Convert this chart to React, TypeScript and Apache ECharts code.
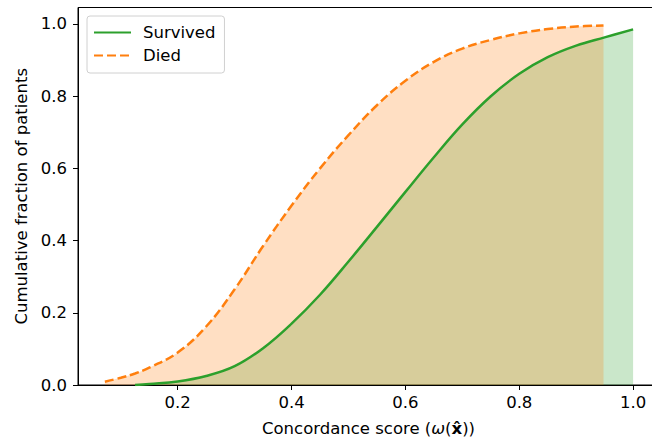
import React, { useEffect, useRef } from "react";
import * as echarts from "echarts";

const survivedX = [0.125, 0.15, 0.2, 0.25, 0.3, 0.35, 0.4, 0.45, 0.5, 0.55, 0.6, 0.65, 0.7, 0.75, 0.8, 0.85, 0.9, 0.95, 1.0];
const survivedY = [0.0, 0.003, 0.01, 0.025, 0.052, 0.102, 0.17, 0.25, 0.342, 0.438, 0.535, 0.631, 0.722, 0.8, 0.862, 0.908, 0.94, 0.963, 0.985];

const diedX = [0.072, 0.1, 0.125, 0.15, 0.2, 0.25, 0.3, 0.35, 0.4, 0.45, 0.5, 0.55, 0.6, 0.65, 0.7, 0.75, 0.8, 0.85, 0.9, 0.948];
const diedY = [0.009, 0.02, 0.032, 0.048, 0.09, 0.162, 0.265, 0.385, 0.497, 0.6, 0.692, 0.775, 0.843, 0.895, 0.932, 0.956, 0.974, 0.986, 0.993, 0.996];

const xTicks = [0.2, 0.4, 0.6, 0.8, 1.0];
const yTicks = [0.0, 0.2, 0.4, 0.6, 0.8, 1.0];

const seriesNames = ["Survived", "Died"];
const xLabel = "Concordance score ({i|ω}({b|x̂}))";
const yLabel = "Cumulative fraction of patients";

const FONT = "DejaVu Sans";
const FS = 16.5;
const GREEN = "#2ca02c";
const ORANGE = "#ff7f0e";
const SMOOTH = 0.4;

export default function App() {
  const ref = useRef<HTMLDivElement>(null);
  useEffect(() => {
    if (!ref.current) return;
    const chart = echarts.init(ref.current, null, { renderer: "svg" });
    const sPts = survivedX.map((x, i) => [x, survivedY[i]]);
    const dPts = diedX.map((x, i) => [x, diedY[i]]);
    const axisCommon = {
      axisLine: { show: true, onZero: false, lineStyle: { color: "#000", width: 1 } },
      axisTick: { show: true, inside: false, length: 5, lineStyle: { color: "#000", width: 1 } },
      splitLine: { show: false },
    };
    chart.setOption({
      animation: false,
      backgroundColor: "#fff",
      textStyle: { fontFamily: FONT },
      grid: {
        left: 78,
        right: 3,
        top: 7.5,
        bottom: 57,
        show: true,
        borderColor: "#000",
        borderWidth: 1,
        containLabel: false,
        outerBoundsMode: "none",
      },
      legend: {
        data: seriesNames,
        orient: "vertical",
        left: 87,
        top: 16,
        padding: [8, 9, 9, 6],
        itemWidth: 37,
        itemHeight: 14,
        itemGap: 6,
        backgroundColor: "rgba(255,255,255,0.8)",
        borderColor: "#d0d0d0",
        borderWidth: 1,
        borderRadius: 3,
        itemStyle: { opacity: 0 },
        textStyle: { fontFamily: FONT, fontSize: FS, color: "#000", padding: [0, 0, 0, 7] },
      },
      xAxis: {
        type: "value",
        min: 0.0248,
        max: 1.0455,
        ...axisCommon,
        axisTick: { ...axisCommon.axisTick, customValues: xTicks },
        axisLabel: {
          customValues: xTicks,
          formatter: (v: number) => v.toFixed(1),
          fontFamily: FONT,
          fontSize: FS,
          color: "#000",
          margin: 9,
        },
        name: xLabel,
        nameLocation: "middle",
        nameGap: 35,
        nameTextStyle: {
          fontFamily: FONT,
          fontSize: FS,
          color: "#000",
          rich: {
            i: { fontFamily: FONT, fontSize: FS, fontStyle: "italic", color: "#000" },
            b: { fontFamily: FONT, fontSize: FS, fontWeight: "bold", color: "#000" },
          },
        },
      },
      yAxis: {
        type: "value",
        min: 0,
        max: 1.0457,
        ...axisCommon,
        axisTick: { ...axisCommon.axisTick, customValues: yTicks },
        axisLabel: {
          customValues: yTicks,
          formatter: (v: number) => v.toFixed(1),
          fontFamily: FONT,
          fontSize: FS,
          color: "#000",
          margin: 11,
        },
        name: yLabel,
        nameLocation: "middle",
        nameGap: 48,
        nameTextStyle: { fontFamily: FONT, fontSize: FS, color: "#000" },
      },
      series: [
        {
          name: "Survived fill",
          type: "line",
          data: sPts,
          smooth: SMOOTH,
          symbol: "none",
          silent: true,
          lineStyle: { width: 0, opacity: 0 },
          areaStyle: { color: "rgba(44,160,44,0.25)", opacity: 1 },
        },
        {
          name: "Died fill",
          type: "line",
          data: dPts,
          smooth: SMOOTH,
          symbol: "none",
          silent: true,
          lineStyle: { width: 0, opacity: 0 },
          areaStyle: { color: "rgba(255,127,14,0.25)", opacity: 1 },
        },
        {
          name: "Died",
          type: "line",
          data: dPts,
          smooth: SMOOTH,
          symbol: "none",
          color: ORANGE,
          lineStyle: { color: ORANGE, width: 2.5, type: [9, 4] },
        },
        {
          name: "Survived",
          type: "line",
          data: sPts,
          smooth: SMOOTH,
          symbol: "none",
          color: GREEN,
          lineStyle: { color: GREEN, width: 2.5 },
        },
      ],
    });
    return () => chart.dispose();
  }, []);
  return (
    <div style={{ position: "fixed", left: 0, top: 0, width: 652, height: 442, overflow: "hidden", background: "#fff" }}>
      <div ref={ref} style={{ width: 662, height: 442 }} />
    </div>
  );
}
